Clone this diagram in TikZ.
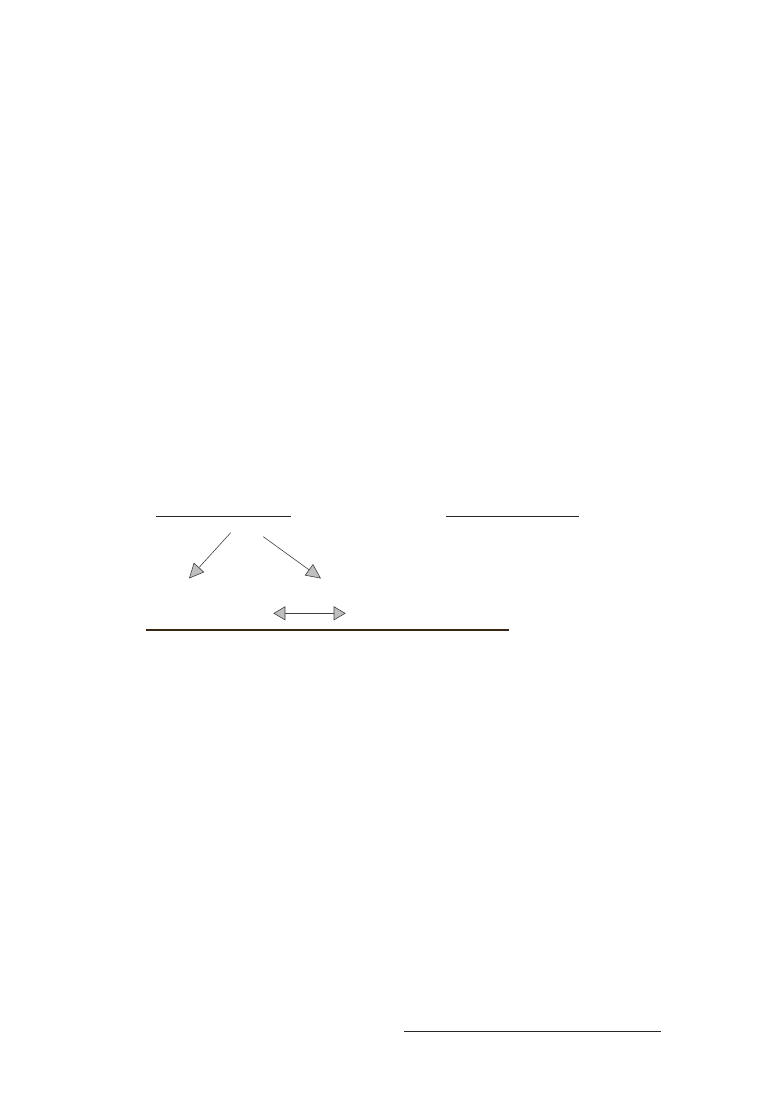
\documentclass[tikz,border=0pt]{standalone}
\usetikzlibrary{arrows.meta}
\begin{document}
\begin{tikzpicture}[x=1pt,y=-1pt,
  rule/.style={draw=black!85,line width=0.9pt},
  thickrule/.style={draw=black!70!brown,line width=1.4pt},
  ptr/.style={draw=black!75,line width=0.6pt,-{Triangle[length=15pt,width=14pt,fill=gray!50]}},
  dptr/.style={draw=black!75,line width=0.6pt,{Triangle[length=12pt,width=14pt,fill=gray!50]}-{Triangle[length=12pt,width=14pt,fill=gray!50]}}]
\useasboundingbox (0,0) rectangle (782,1094);
\coordinate (l1a) at (156,516.7); \coordinate (l1b) at (290.7,516.7);
\coordinate (l2a) at (446,516.7); \coordinate (l2b) at (578.7,516.7);
\coordinate (a1s) at (230.7,532.7); \coordinate (a1t) at (189,578.5);
\coordinate (a2s) at (263.3,536.7); \coordinate (a2t) at (321,578.5);
\coordinate (d1) at (273.3,613.3); \coordinate (d2) at (345.7,613.3);
\coordinate (l3a) at (146,630); \coordinate (l3b) at (509.3,630);
\coordinate (l4a) at (404,1031.3); \coordinate (l4b) at (660.7,1031.3);
\draw[rule] (l1a) -- (l1b);
\draw[rule] (l2a) -- (l2b);
\draw[ptr] (a1s) -- (a1t);
\draw[ptr] (a2s) -- (a2t);
\draw[dptr] (d1) -- (d2);
\draw[thickrule] (l3a) -- (l3b);
\draw[rule,line width=1.1pt] (l4a) -- (l4b);
\end{tikzpicture}
\end{document}
